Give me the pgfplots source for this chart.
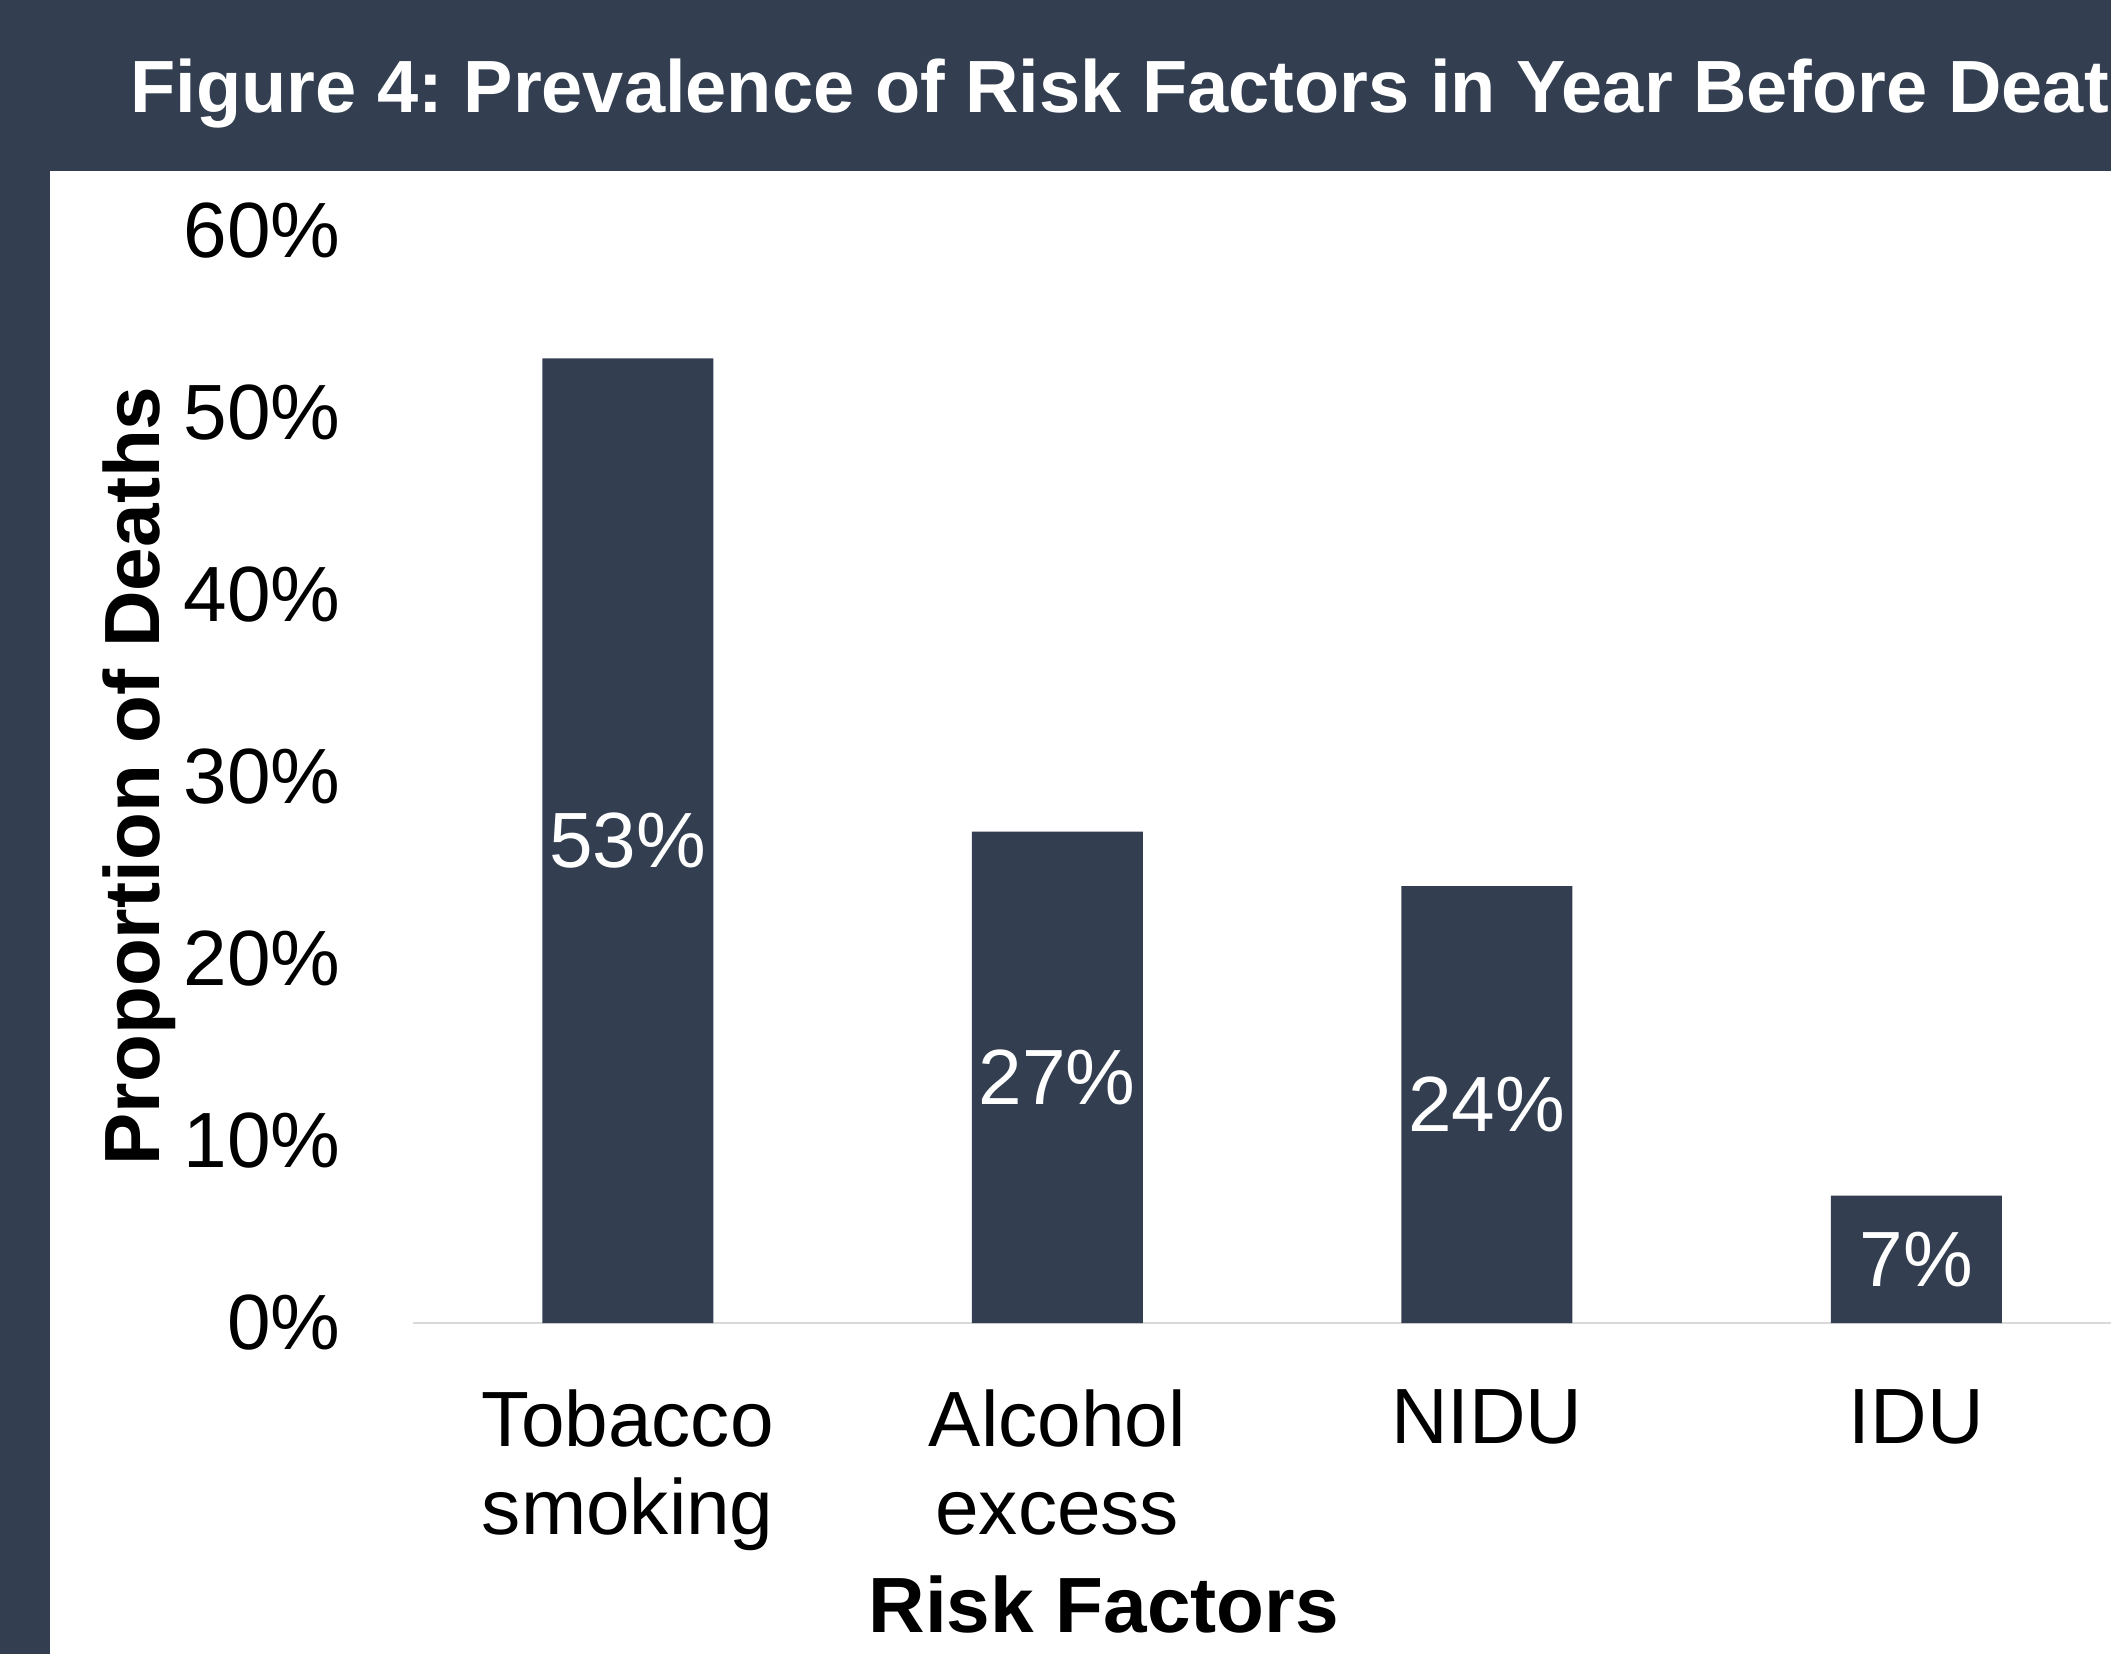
\documentclass[border=0pt]{standalone}
\usepackage{pgfplots}
\usepackage{pgfplotstable}
\pgfplotsset{compat=1.18}
\usepackage{fontspec}
\setmainfont{Liberation Sans}
\definecolor{slate}{HTML}{333F50}
\definecolor{axisgray}{HTML}{D9D9D9}
\pgfplotstableread{
x y
0 53
1 27
2 24
3 7
}\riskdata
\begin{document}
\frenchspacing
\begin{tikzpicture}
\path[use as bounding box] (0,0) rectangle (633.3pt,496.2pt);
\clip (0,0) rectangle (633.3pt,496.2pt);
\fill[slate] (0,0) rectangle (633.3pt,496.2pt);
\fill[white] (15pt,0) rectangle (633.3pt,444.9pt);
\node[anchor=base west, text=white, font=\bfseries\fontsize{22.2}{26}\selectfont, inner sep=0pt] at (39pt,462.3pt) {Figure 4: Prevalence of Risk Factors in Year Before Death};
\begin{axis}[
  at={(123.9pt,99.3pt)}, anchor=south west,
  scale only axis, width=515.4pt, height=327.6pt,
  xmin=-0.5, xmax=3.5, ymin=0, ymax=60,
  ybar, bar width=51.3pt,
  axis x line*=bottom, axis y line*=left,
  x axis line style={draw=axisgray, line width=0.6pt, -},
  y axis line style={draw=none},
  major tick length=0pt,
  /pgf/number format/assume math mode=true,
  xtick={0,1,2,3},
  xticklabels={Tobacco\\smoking, Alcohol\\excess, NIDU, IDU},
  ytick={0,10,20,30,40,50,60},
  yticklabel={\pgfmathprintnumber{\tick}\%},
  yticklabel style={anchor=east, inner sep=0pt, xshift=-21.6pt, font=\fontsize{23.5}{26.3}\selectfont},
  xticklabel style={anchor=north, align=center, inner sep=0pt, yshift=-19.8pt, font=\fontsize{23.5}{26.3}\selectfont},
  ylabel={Proportion of Deaths},
  xlabel={Risk Factors},
  every axis y label/.style={at={(axis description cs:-0.1478,0.501)}, rotate=90, anchor=base, inner sep=0pt, font=\bfseries\fontsize{23.5}{26.3}\selectfont},
  every axis x label/.style={at={(axis description cs:0.402,-0.283)}, anchor=base, inner sep=0pt, font=\bfseries\fontsize{23.5}{26.3}\selectfont},
]
\addplot[fill=slate, draw=none,
  visualization depends on={rawy \as \yval},
  nodes near coords={\pgfmathprintnumber{\pgfplotspointmeta}\%},
  every node near coord/.append style={text=white, anchor=center, inner sep=0pt, font=\fontsize{23.5}{26.3}\selectfont, yshift={-2.73pt*\yval}},
] table[x=x,y=y] {\riskdata};
\end{axis}
\end{tikzpicture}
\end{document}
